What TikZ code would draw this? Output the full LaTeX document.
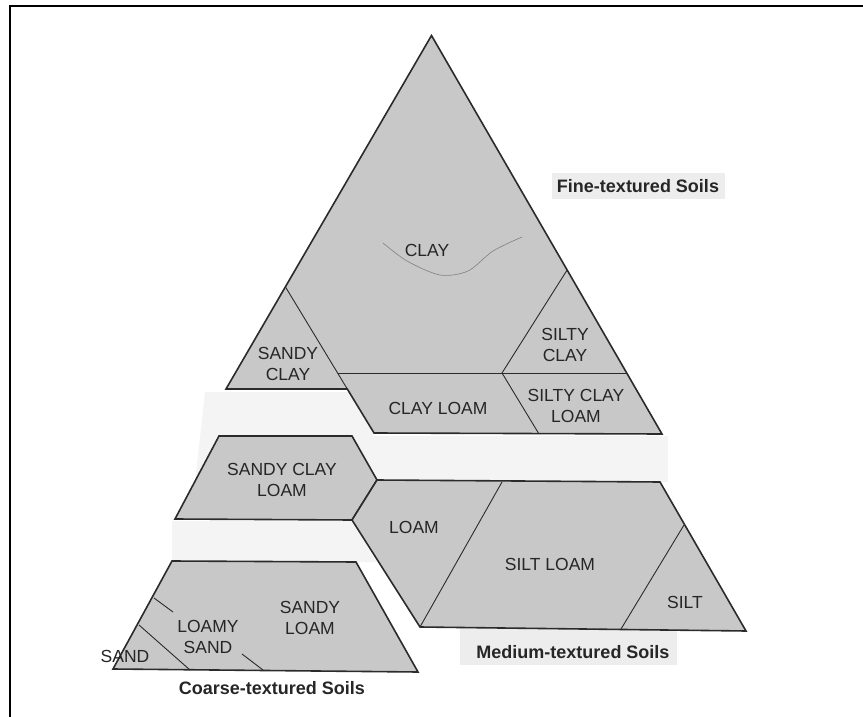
\documentclass[tikz,border=0pt]{standalone}
\usepackage{fontspec}
\setmainfont{Liberation Sans}

\begin{document}
\begin{tikzpicture}[x=1pt, y=-1pt,
    region/.style={fill=fillColour, draw=borderColour, line width=1.6pt, line join=miter},
    divide/.style={draw=borderColour, line width=0.9pt},
    soil/.style={font=\fontsize{17.5}{21}\selectfont, align=center, text=textColour, inner sep=0pt},
    group/.style={font=\bfseries\fontsize{18}{21}\selectfont, text=textColour, inner sep=0pt}]

    \definecolor{borderColour}{HTML}{2B2B2B}
    \definecolor{fillColour}{HTML}{C8C8C8}
    \definecolor{hazeColour}{HTML}{F4F4F4}
    \definecolor{labelColour}{HTML}{EDEDED}
    \definecolor{textColour}{HTML}{262626}

    % Page size and frame
    \useasboundingbox (0,0) rectangle (863,717);
    \draw[line width=2pt, line join=miter] (10,717) -- (10,6) -- (863,6);

    % Light patches behind the pieces
    \fill[hazeColour] (205,392) -- (350,392) -- (374,436) -- (668,436) -- (668,482) -- (195,482) -- cycle;
    \fill[hazeColour] (172,521) -- (352,521) -- (376,562) -- (172,562) -- cycle;
    \fill[labelColour] (552,173) rectangle (725,199);
    \fill[labelColour] (460,628) rectangle (677,665);

    % Fine-textured soils
    \coordinate (apex) at (431.5,35.5);
    \coordinate (fineBR) at (662,434);
    \coordinate (fineBL) at (374,433);
    \coordinate (sandyClayBR) at (347.3,389);
    \coordinate (sandyClayBL) at (226,389);
    \coordinate (sandyClayTop) at (285.5,287);
    \coordinate (clayLoamL) at (337.6,373);
    \coordinate (clayLoamR) at (626.7,373);
    \coordinate (siltyClayTop) at (567.1,270);
    \coordinate (siltyClayBL) at (502,373);
    \coordinate (siltyClayLoamBL) at (539,434);

    \filldraw[region] (apex) -- (fineBR) -- (fineBL) -- (sandyClayBR) -- (sandyClayBL) -- cycle;
    \draw[divide] (sandyClayTop) -- (sandyClayBR);
    \draw[divide] (clayLoamL) -- (clayLoamR);
    \draw[divide] (siltyClayTop) -- (siltyClayBL) -- (siltyClayLoamBL);
    \draw[gray, line width=0.6pt] plot[smooth] coordinates {(383,243) (407,261) (440,275) (468,271) (493,251) (522,237)};

    % Medium-textured soils
    \coordinate (sclTL) at (219,436);
    \coordinate (sclTR) at (352,436);
    \coordinate (sclR) at (377,480);
    \coordinate (sclBR) at (352,520);
    \coordinate (sclBL) at (175,519);
    \coordinate (medTR) at (660,482);
    \coordinate (medBR) at (746,631);
    \coordinate (medBL) at (420,627);
    \coordinate (siltLoamTop) at (502,482);
    \coordinate (siltTop) at (684,525);
    \coordinate (siltBL) at (621,629);

    \filldraw[region] (sclTL) -- (sclTR) -- (sclR) -- (sclBR) -- (sclBL) -- cycle;
    \filldraw[region] (sclR) -- (medTR) -- (medBR) -- (medBL) -- (sclBR) -- cycle;
    \draw[divide] (siltLoamTop) -- (medBL);
    \draw[divide] (siltTop) -- (siltBL);

    % Coarse-textured soils
    \coordinate (coarseTL) at (172,561);
    \coordinate (coarseTR) at (356,562);
    \coordinate (coarseBR) at (418,672);
    \coordinate (coarseBL) at (113,669);
    \coordinate (sandTop) at (139,625);
    \coordinate (sandBR) at (190,670);

    \filldraw[region] (coarseTL) -- (coarseTR) -- (coarseBR) -- (coarseBL) -- cycle;
    \draw[divide] (sandTop) -- (sandBR);
    \draw[divide] (154,598) -- (173,612);
    \draw[divide] (242,654) -- (263,670);

    % Soil names
    \node[soil] (clay) at (427,250) {CLAY};
    \node[soil] (sandyClay) at (288,364) {SANDY\\CLAY};
    \node[soil] (siltyClay) at (565,345) {SILTY\\CLAY};
    \node[soil] (clayLoam) at (438,408) {CLAY LOAM};
    \node[soil] (siltyClayLoam) at (576,406) {SILTY CLAY\\LOAM};
    \node[soil] (sandyClayLoam) at (282,480) {SANDY CLAY\\LOAM};
    \node[soil] (loam) at (414,527) {LOAM};
    \node[soil] (siltLoam) at (550,564) {SILT LOAM};
    \node[soil] (silt) at (685,602) {SILT};
    \node[soil] (sandyLoam) at (310,618) {SANDY\\LOAM};
    \node[soil] (loamySand) at (208,637) {LOAMY\\SAND};
    \node[soil] (sand) at (125,656) {SAND};

    % Group names
    \node[group] (fine) at (638,186) {Fine-textured Soils};
    \node[group] (medium) at (573,652) {Medium-textured Soils};
    \node[group] (coarse) at (272,688) {Coarse-textured Soils};

\end{tikzpicture}
\end{document}
